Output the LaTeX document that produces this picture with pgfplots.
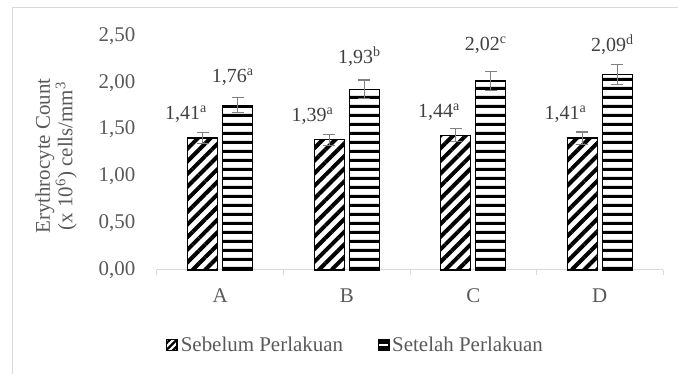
\documentclass[border=0pt]{standalone}
\usepackage{fontspec}
\setmainfont{Liberation Serif}
\usepackage{pgfplots}
\pgfplotsset{compat=1.18}
\usetikzlibrary{patterns.meta}
\definecolor{txt}{HTML}{595959}
\definecolor{lbl}{HTML}{404040}
\definecolor{axl}{HTML}{D9D9D9}
\definecolor{errc}{HTML}{808080}
\newcommand{\fs}{\fontsize{15.7}{18}\selectfont}
\newcommand{\fl}{\fontsize{15}{18}\selectfont}

\tikzdeclarepattern{
  name=hstripes,
  type=uncolored,
  bounding box={(0pt,0pt) and (600pt,6.5pt)},
  tile size={(600pt,6.5pt)},
  code={\fill (0pt,0pt) rectangle (600pt,2.4pt);}
}

\pgfplotstableread{
x y e
0 1.41 0.055
1 1.39 0.06
2 1.44 0.07
3 1.41 0.065
}\before
\pgfplotstableread{
x y e
0 1.76 0.08
1 1.93 0.10
2 2.02 0.10
3 2.09 0.105
}\after

\begin{document}
\begin{tikzpicture}
\path[use as bounding box] (0,0) rectangle (508.5pt,280.5pt);
\draw[axl, line width=0.75pt] (9pt,0) -- (9pt,274.5pt) -- (508.5pt,274.5pt);
\begin{axis}[
  at={(117.75pt,78pt)}, anchor=south west,
  scale only axis, width=379.5pt, height=175.5pt,
  ybar=3.7pt, bar width=22.5pt,
  xmin=-0.5, xmax=3.5, ymin=0, ymax=2.5,
  axis x line*=bottom, axis y line*=left,
  y axis line style={draw=none},
  x axis line style={axl, line width=0.75pt, -},
  xtick={0,1,2,3}, xticklabels={A,B,C,D},
  minor xtick={-0.5,0.5,1.5,2.5,3.5},
  major x tick style={draw=none},
  minor x tick style={axl, line width=0.75pt},
  tick align=outside, minor tick length=4pt,
  ytick={0,0.5,1,1.5,2,2.5},
  major y tick style={draw=none},
  /pgf/number format/assume math mode=true,
  yticklabel style={/pgf/number format/fixed, /pgf/number format/fixed zerofill,
    /pgf/number format/precision=2, /pgf/number format/use comma,
    anchor=east, xshift=-8.5pt, text=txt, font=\fs},
  xticklabel style={text=txt, font=\fs, yshift=-6pt},
  ylabel={Erythrocyte Count\\(x 10\textsuperscript{6}) cells/mm\textsuperscript{3}},
  ylabel style={at={(axis description cs:-0.1996,0.487)}, anchor=center,
    align=center, text=txt, font=\fontsize{15.7}{15}\selectfont},
  clip=false,
  legend columns=2,
  legend style={at={(0.392,-0.3205)}, anchor=center, draw=none, fill=none,
    font=\fs, text=txt,
    /tikz/every even column/.append style={column sep=24pt}},
  legend cell align=left,
]
\addplot[draw=black, line width=0.9pt,
  pattern={Lines[angle=45,distance=6.7pt,line width=3pt]}, pattern color=black,
  legend image code/.code={
    \fill[pattern={Lines[angle=45,distance=3.6pt,line width=1.7pt]}, pattern color=black]
      (0pt,-4pt) rectangle (8pt,4pt);},
  error bars/.cd, y dir=both, y explicit,
  error bar style={line width=0.9pt, errc, solid},
  error mark options={rotate=90, mark size=4.5pt, line width=0.9pt, errc, solid}]
  table[x=x, y=y, y error=e] {\before};
\addlegendentry{Sebelum Perlakuan}
\addplot[draw=black, line width=0.9pt,
  pattern=hstripes, pattern color=black,
  legend image code/.code={
    \draw[black, line width=0.8pt, fill=white] (0pt,-4pt) rectangle (8pt,4pt);
    \fill[black] (0pt,-4pt) rectangle (8pt,-1.3pt);
    \fill[black] (0pt,1.3pt) rectangle (8pt,4pt);},
  error bars/.cd, y dir=both, y explicit,
  error bar style={line width=0.9pt, errc, solid},
  error mark options={rotate=90, mark size=4.5pt, line width=0.9pt, errc, solid}]
  table[x=x, y=y, y error=e] {\after};
\addlegendentry{Setelah Perlakuan}

\node[lbl, font=\fl] at (axis cs:-0.27,1.66) {1,41\textsuperscript{a}};
\node[lbl, font=\fl] at (axis cs:0.73,1.64) {1,39\textsuperscript{a}};
\node[lbl, font=\fl] at (axis cs:1.73,1.69) {1,44\textsuperscript{a}};
\node[lbl, font=\fl] at (axis cs:2.73,1.66) {1,41\textsuperscript{a}};
\node[lbl, font=\fl] at (axis cs:0.1,2.06) {1,76\textsuperscript{a}};
\node[lbl, font=\fl] at (axis cs:1.1,2.28) {1,93\textsuperscript{b}};
\node[lbl, font=\fl] at (axis cs:2.1,2.40) {2,02\textsuperscript{c}};
\node[lbl, font=\fl] at (axis cs:3.1,2.41) {2,09\textsuperscript{d}};
\end{axis}
\end{tikzpicture}
\end{document}
